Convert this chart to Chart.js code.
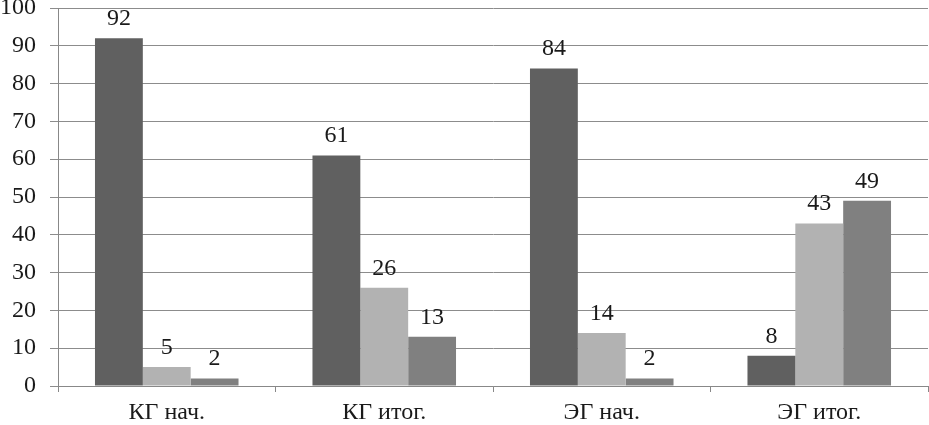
<!DOCTYPE html>
<html><head><meta charset="utf-8">
<script src="https://cdn.jsdelivr.net/npm/chart.js@4"></script>
<style>html,body{margin:0;padding:0;background:#fff}#w{width:929px;height:425px}</style>
</head><body><div id="w"><canvas id="c"></canvas></div>
<script>
const categories = ["КГ нач.", "КГ итог.", "ЭГ нач.", "ЭГ итог."];
const series1 = [92, 61, 84, 8];
const series2 = [5, 26, 14, 43];
const series3 = [2, 13, 2, 49];
const yTicks = [0, 10, 20, 30, 40, 50, 60, 70, 80, 90, 100];

const FONT = "'Liberation Serif', 'Times New Roman', serif";

const labelPlugin = {
  id: 'vals',
  afterDatasetsDraw(chart) {
    const ctx = chart.ctx;
    ctx.save();
    ctx.font = "24px " + FONT;
    ctx.fillStyle = "#1a1a1a";
    ctx.textAlign = "center";
    ctx.textBaseline = "alphabetic";
    chart.data.datasets.forEach((ds, i) => {
      chart.getDatasetMeta(i).data.forEach((el, j) => {
        ctx.fillText(String(ds.data[j]), el.x, el.y - 13);
      });
    });
    ctx.restore();
  }
};

new Chart(document.getElementById('c'), {
  type: 'bar',
  data: {
    labels: categories,
    datasets: [
      { data: series1, backgroundColor: '#606060', borderWidth: 0 },
      { data: series2, backgroundColor: '#b2b2b2', borderWidth: 0 },
      { data: series3, backgroundColor: '#808080', borderWidth: 0 }
    ]
  },
  options: {
    responsive: true,
    maintainAspectRatio: false,
    animation: false,
    layout: { padding: { top: 8, right: 1, left: 0, bottom: 0 } },
    plugins: { legend: { display: false }, tooltip: { enabled: false } },
    datasets: { bar: { categoryPercentage: 0.66, barPercentage: 1 } },
    scales: {
      x: {
        offset: true,
        grid: { offset: true, drawOnChartArea: false, drawTicks: true, tickLength: 6, color: '#888' },
        border: { color: '#888' },
        ticks: { color: '#1a1a1a', font: { family: FONT, size: 24 }, padding: 6 },
        afterFit(s) { s.height = 39; s.paddingLeft = 0; s.paddingRight = 0; }
      },
      y: {
        min: 0, max: 100,
        afterBuildTicks(s) { s.ticks = yTicks.map(v => ({ value: v })); },
        grid: { color: '#8c8c8c', tickLength: 8, drawTicks: true },
        border: { color: '#888' },
        ticks: { color: '#1a1a1a', font: { family: FONT, size: 24 }, padding: 14 },
        afterFit(s) { s.width = 58; s.paddingTop = 0; s.paddingBottom = 0; }
      }
    }
  },
  plugins: [labelPlugin]
});
</script></body></html>
